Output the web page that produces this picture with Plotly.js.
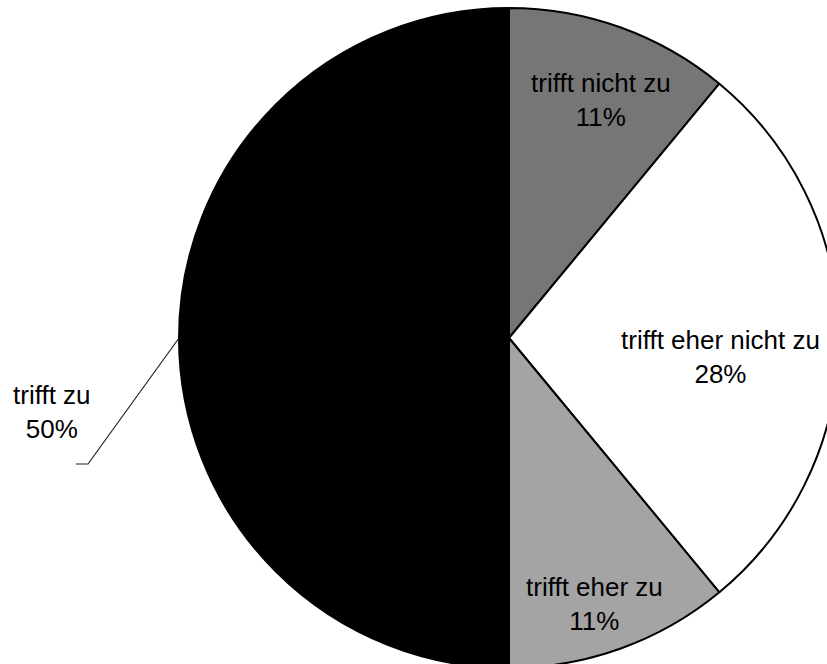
<!DOCTYPE html>
<html>
<head>
<meta charset="utf-8">
<script src="https://cdn.plot.ly/plotly-3.0.1.min.js"></script>
<style>
  html, body { margin: 0; padding: 0; background: #ffffff; overflow: hidden; width: 827px; height: 664px; }
  #chart { width: 860px; height: 680px; }
</style>
</head>
<body>
<div id="chart"></div>
<script>
// Antworten (Anteile in Prozent), im Uhrzeigersinn ab 12 Uhr
const categories = ['trifft nicht zu', 'trifft eher nicht zu', 'trifft eher zu', 'trifft zu'];
const shares = [11, 28, 11, 50];

// Darstellung
const sliceColors = ['#767676', '#ffffff', '#a4a4a4', '#000000'];
// Beschriftungsmitte je Segment in Pixeln der Seite
const labelPixel = [[601, 100], [720, 357], [594, 604], [52, 412]];

const W = 860, H = 680;
const cx = 509, cy = 338, R = 330;
const margin = { l: cx - R, r: W - (cx + R), t: cy - R, b: H - (cy + R) };
const pw = 2 * R, ph = 2 * R;

const toPaperX = px => (px - margin.l) / pw;
const toPaperY = py => 1 - (py - margin.t) / ph;

const total = shares.reduce((a, b) => a + b, 0);

// Mittelwinkel des letzten Segments (vom Zenit im Uhrzeigersinn) für die Führungslinie
let before = 0;
for (let i = 0; i < shares.length - 1; i++) before += shares[i];
const lastIdx = shares.length - 1;
const midFrac = (before + shares[lastIdx] / 2) / total;
const theta = midFrac * 2 * Math.PI;
const edgeX = 0.5 + 0.5 * Math.sin(theta);
const edgeY = 0.5 + 0.5 * Math.cos(theta);

const annotations = categories.map((c, i) => ({
  text: c + '<br>' + shares[i] + '%',
  xref: 'paper', yref: 'paper',
  x: toPaperX(labelPixel[i][0]),
  y: toPaperY(labelPixel[i][1]),
  xanchor: 'center', yanchor: 'middle',
  showarrow: false,
  align: 'center',
  font: { family: 'Liberation Sans, Arial, sans-serif', size: 26, color: '#000000' }
}));

// Führungslinie vom Rand des Segments zur Beschriftung
const bendX = toPaperX(88), bendY = toPaperY(464);
const endX = toPaperX(76);
const shapes = [{
  type: 'path',
  xref: 'paper', yref: 'paper',
  path: `M ${edgeX} ${edgeY} L ${bendX} ${bendY} L ${endX} ${bendY}`,
  line: { color: '#222222', width: 1.2 }
}];

const trace = {
  type: 'pie',
  labels: categories,
  values: shares,
  sort: false,
  direction: 'clockwise',
  rotation: 0,
  textinfo: 'none',
  hoverinfo: 'label+percent',
  marker: {
    colors: sliceColors,
    line: { color: '#000000', width: 2 }
  },
  domain: { x: [0, 1], y: [0, 1] }
};

const layout = {
  width: W, height: H,
  margin: margin,
  showlegend: false,
  paper_bgcolor: '#ffffff',
  plot_bgcolor: '#ffffff',
  annotations: annotations,
  shapes: shapes
};

Plotly.newPlot('chart', [trace], layout, { displayModeBar: false, staticPlot: true });
</script>
</body>
</html>
